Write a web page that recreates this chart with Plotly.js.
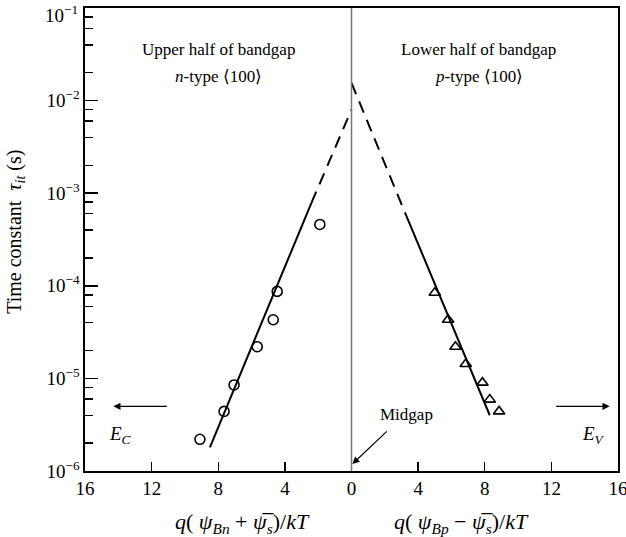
<!DOCTYPE html>
<html>
<head>
<meta charset="utf-8">
<script src="https://cdn.plot.ly/plotly-3.0.1.min.js"></script>
<style>html,body{margin:0;padding:0;background:#fff;}#chart{width:626px;height:537px;}</style>
</head>
<body>
<div id="chart"></div>
<script>
// n-type (upper half of bandgap), plotted on the negative side
const nX = [-9.1, -7.65, -7.05, -5.66, -4.70, -4.46, -1.9];
const nTau = [2.2e-6, 4.4e-6, 8.5e-6, 2.2e-5, 4.3e-5, 8.7e-5, 4.6e-4];
// p-type (lower half of bandgap)
const pX = [5.0, 5.8, 6.24, 6.86, 7.86, 8.30, 8.86];
const pTau = [8.4e-5, 4.3e-5, 2.2e-5, 1.43e-5, 9.0e-6, 5.9e-6, 4.4e-6];
// fitted lines
const nFitSolidX = [-8.5, -2.4];
const nFitSolidY = [1.8e-6, 7.9e-4];
const nFitDashX = [-2.4, 0];
const nFitDashY = [7.9e-4, 8.0e-3];
const pFitDashX = [0, 3.3];
const pFitDashY = [1.55e-2, 5.65e-4];
const pFitSolidX = [3.3, 8.3];
const pFitSolidY = [5.65e-4, 4.0e-6];
// axis ticks
const xTickVals = [-16, -12, -8, -4, 0, 4, 8, 12, 16];
const xTickText = ['16', '12', '8', '4', '0', '4', '8', '12', '16'];
const yTickVals = [1e-6, 1e-5, 1e-4, 1e-3, 1e-2, 1e-1];
const yTickText = ['10<sup>−6</sup>', '10<sup>−5</sup>', '10<sup>−4</sup>', '10<sup>−3</sup>', '10<sup>−2</sup>', '10<sup>−1</sup>'];
const yMinorMantissas = [2, 4, 6, 8];
const yMinorVals = [];
yTickVals.slice(0, 5).forEach(d => yMinorMantissas.forEach(m => yMinorVals.push(d * m)));

const FONT = 'Liberation Serif, Times New Roman, serif';
const L = Math.log10;

// main axis carries every tick (short); the overlay carries the long decade ticks
const allYVals = yTickVals.concat(yMinorVals);
const allYText = yTickText.map((t, i) => i === yTickText.length - 1 ? '' : t).concat(yMinorVals.map(() => ''));

const traces = [
  {x: nFitSolidX, y: nFitSolidY, mode: 'lines', line: {color: '#000', width: 2}, hoverinfo: 'skip'},
  {x: nFitDashX, y: nFitDashY, mode: 'lines', line: {color: '#000', width: 2, dash: '12px,8px'}, hoverinfo: 'skip'},
  {x: pFitDashX, y: pFitDashY, mode: 'lines', line: {color: '#000', width: 2, dash: '12px,8px'}, hoverinfo: 'skip'},
  {x: pFitSolidX, y: pFitSolidY, mode: 'lines', line: {color: '#000', width: 2}, hoverinfo: 'skip'},
  {x: nX, y: nTau, mode: 'markers', marker: {symbol: 'circle-open', size: 10, color: '#000', line: {width: 1.6, color: '#000'}}},
  {x: pX, y: pTau, mode: 'markers', marker: {symbol: 'triangle-up-open', size: 10, color: '#000', line: {width: 1.6, color: '#000'}}},
  {x: nX.slice(0, 1), y: nTau.slice(0, 1), yaxis: 'y2', mode: 'markers', marker: {opacity: 0}, hoverinfo: 'skip'}
];

const txt = (x, y, text, extra) => Object.assign({x: x, y: y, xref: 'x', yref: 'y', text: text, showarrow: false,
  font: {family: FONT, size: 17, color: '#000'}}, extra || {});

const layout = {
  width: 626, height: 537,
  margin: {l: 85, r: 8, t: 8, b: 66},
  paper_bgcolor: '#fff', plot_bgcolor: '#fff',
  showlegend: false,
  font: {family: FONT, color: '#000'},
  xaxis: {
    range: [-16, 16], tickmode: 'array', tickvals: xTickVals, ticktext: xTickText,
    ticks: 'inside', ticklen: 9, tickwidth: 1.4, tickcolor: '#000',
    showline: true, linecolor: '#000', linewidth: 1.6, mirror: true,
    showgrid: false, zeroline: false, ticklabeloverflow: 'allow',
    tickfont: {family: FONT, size: 19, color: '#000'}
  },
  yaxis: {
    type: 'log', range: [-6, -1], tickmode: 'array', tickvals: allYVals, ticktext: allYText,
    ticks: 'inside', ticklen: 8, tickwidth: 1.5, tickcolor: '#000',
    showline: true, linecolor: '#000', linewidth: 1.6, mirror: true,
    showgrid: false, zeroline: false, ticklabeloverflow: 'allow',
    tickfont: {family: FONT, size: 19, color: '#000'}
  },
  yaxis2: {
    type: 'log', range: [-6, -1], overlaying: 'y', side: 'left', anchor: 'x',
    tickmode: 'array', tickvals: yTickVals, ticktext: yTickVals.map(() => ' '),
    ticks: 'inside', ticklen: 13, tickwidth: 1.5, tickcolor: '#000',
    showline: false, showgrid: false, zeroline: false, showticklabels: true,
    tickfont: {family: FONT, size: 19, color: 'rgba(0,0,0,0)'}
  },
  shapes: [
    {type: 'line', xref: 'x', yref: 'paper', x0: 0, x1: 0, y0: 0, y1: 1, line: {color: '#777', width: 1.5}}
  ],
  annotations: [
    {x: 0, y: 1, xref: 'paper', yref: 'paper', xanchor: 'right', yanchor: 'middle', xshift: -5, yshift: -6,
      showarrow: false, text: yTickText[yTickText.length - 1], font: {family: FONT, size: 19, color: '#000'}},
    txt(-8.0, L(3.6e-2), 'Upper half of bandgap'),
    txt(-8.0, L(1.84e-2), '<i>n</i>-type ⟨100⟩'),
    txt(7.65, L(3.6e-2), 'Lower half of bandgap'),
    txt(7.65, L(1.84e-2), '<i>p</i>-type ⟨100⟩'),
    txt(-13.9, L(2.45e-6), '<i>E</i><sub><i>C</i></sub>', {font: {family: FONT, size: 19, color: '#000'}}),
    txt(14.5, L(2.45e-6), '<i>E</i><sub><i>V</i></sub>', {font: {family: FONT, size: 19, color: '#000'}}),
    txt(3.32, L(4.05e-6), 'Midgap'),
    {x: -14.3, y: L(5e-6), xref: 'x', yref: 'y', text: '', showarrow: true, ax: 55, ay: 0,
      arrowhead: 2, arrowsize: 1.2, arrowwidth: 1.2, arrowcolor: '#000'},
    {x: 15.5, y: L(5e-6), xref: 'x', yref: 'y', text: '', showarrow: true, ax: -55, ay: 0,
      arrowhead: 2, arrowsize: 1.2, arrowwidth: 1.2, arrowcolor: '#000'},
    {x: 0.05, y: L(1.19e-6), xref: 'x', yref: 'y', text: '', showarrow: true, ax: 36, ay: -34,
      arrowhead: 2, arrowsize: 1.2, arrowwidth: 1.2, arrowcolor: '#000'},
    {x: -0.131, y: 0.517, xref: 'paper', yref: 'paper', xanchor: 'center', yanchor: 'middle', textangle: -90,
      showarrow: false, text: 'Time constant  <i>τ</i><sub><i>it</i></sub> (s)',
      font: {family: FONT, size: 20, color: '#000'}},
    {x: -6.57, y: -0.1126, xref: 'x', yref: 'paper', yanchor: 'middle', showarrow: false,
      text: '<i>q</i>( <i>ψ</i><sub><i>Bn</i></sub> + <i>ψ̅</i><sub><i>s</i></sub>)/<i>kT</i>',
      font: {family: FONT, size: 22, color: '#000'}},
    {x: 6.62, y: -0.1126, xref: 'x', yref: 'paper', yanchor: 'middle', showarrow: false,
      text: '<i>q</i>( <i>ψ</i><sub><i>Bp</i></sub> − <i>ψ̅</i><sub><i>s</i></sub>)/<i>kT</i>',
      font: {family: FONT, size: 22, color: '#000'}}
  ]
};

Plotly.newPlot('chart', traces, layout, {staticPlot: true, displayModeBar: false});
</script>
</body>
</html>
